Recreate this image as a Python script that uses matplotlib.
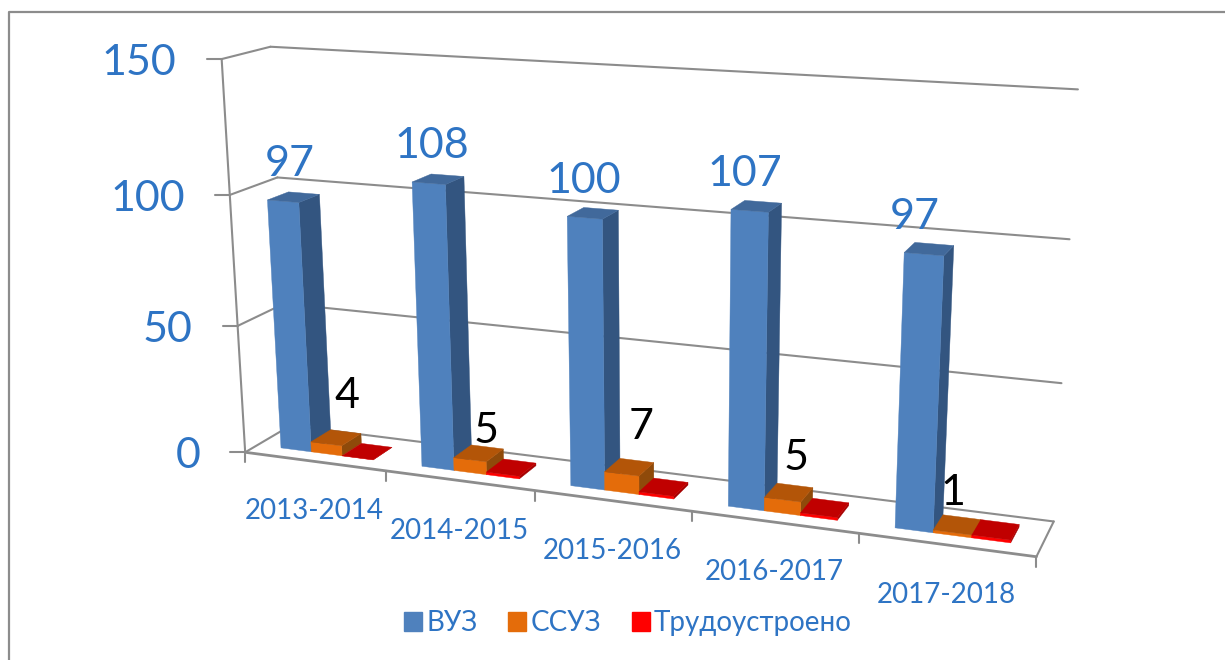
import numpy as np
import matplotlib
matplotlib.use('Agg')
import matplotlib.pyplot as plt
from matplotlib.patches import Polygon, Patch

categories = ['2013-2014', '2014-2015', '2015-2016', '2016-2017', '2017-2018']
series_names = ['ВУЗ', 'ССУЗ', 'Трудоустроено']
vuz = [97, 108, 100, 107, 97]
ssuz = [4, 5, 7, 5, 1]
work = [0, 1, 1, 1, 1]
z_ticks = [0, 50, 100, 150]

# nudges for the black labels, they do not sit evenly in the original
ssuz_dx = [21, 16, 19, 14, 0]
ssuz_dy = [-48, -29, -47, -42, -40]

plt.rcParams['font.family'] = ['Lato', 'Open Sans', 'DejaVu Sans']
text_blue = '#2E74C4'
grid_grey = '#8C8C8C'

# face colours: front, top, side
blue = ('#4F81BD', '#41699B', '#335580')
orange = ('#E46C0A', '#B35508', '#8F4A0A')
red = ('#FF0000', '#C00000', '#A50000')

# camera fitted from the corners of the chart box: (cat, depth, value) -> pixel
calib = [
    (0, 0, 0, 245, 453), (0, 0, 100, 230, 194), (0, 0, 150, 222, 59),
    (0, 1, 0, 291, 425), (0, 1, 100, 277, 178), (0, 1, 150, 270, 47),
    (5, 1, 0, 1054, 522), (5, 1, 50, 1061, 382), (5, 1, 100, 1070, 239),
    (5, 1, 150, 1078, 90), (5, 0, 0, 1036, 557),
]
A = []
b = []
for x, y, z, u, v in calib:
    A.append([x, y, z, 1, 0, 0, 0, 0, -u * x, -u * y, -u * z])
    A.append([0, 0, 0, 0, x, y, z, 1, -v * x, -v * y, -v * z])
    b += [u, v]
p = np.linalg.lstsq(np.array(A, float), np.array(b, float), rcond=None)[0]
P = np.append(p, 1).reshape(3, 4)


def proj(x, y, z):
    w = P @ np.array([x, y, z, 1.0])
    return w[0] / w[2], w[1] / w[2]


fig = plt.figure(figsize=(12.25, 6.6), dpi=100)
ax = fig.add_axes([0, 0, 1, 1])
ax.set_xlim(0, 1225)
ax.set_ylim(660, 0)
ax.axis('off')

# outer frame, only left and top are in the crop
ax.plot([9, 9, 1225], [660, 12, 12], color='#8C8C8C', lw=1.6)


def line(a, b, lw=1.5):
    ax.plot([a[0], b[0]], [a[1], b[1]], color=grid_grey, lw=lw, solid_capstyle='round', zorder=2)


# walls and floor
for z in z_ticks:
    line(proj(0, 1, z), proj(5, 1, z))
    line(proj(0, 0, z), proj(0, 1, z))
    fx, fy = proj(0, 0, z)
    line((fx - 15, fy), (fx, fy))
    ax.text(fx - 45, fy + 4, str(z), ha='right', va='center', fontsize=31, color=text_blue)
line(proj(0, 0, 0), proj(0, 0, 150))
line(proj(0, 0, 0), proj(5, 0, 0), lw=2)
line(proj(5, 0, 0), proj(5, 1, 0))
for i in range(6):
    fx, fy = proj(i, 0, 0)
    line((fx, fy), (fx, fy + 10))

bar_w = 0.22
pad = 0.17
y0 = 0.27
y1 = 0.72


def bar(x, val, cols):
    xa = x
    xb = x + bar_w
    front = [proj(xa, y0, 0), proj(xb, y0, 0), proj(xb, y0, val), proj(xa, y0, val)]
    side = [proj(xb, y0, 0), proj(xb, y1, 0), proj(xb, y1, val), proj(xb, y0, val)]
    top = [proj(xa, y0, val), proj(xb, y0, val), proj(xb, y1, val), proj(xa, y1, val)]
    for pts, c in zip((side, front, top), (cols[2], cols[0], cols[1])):
        ax.add_patch(Polygon(pts, closed=True, fc=c, ec=c, lw=0.3, zorder=3))


for i in range(len(categories)):
    bar(i + pad, vuz[i], blue)
    bar(i + pad + bar_w, ssuz[i], orange)
    bar(i + pad + 2 * bar_w, work[i], red)

    tx, ty = proj(i + pad + bar_w / 2, y0, vuz[i])
    ax.text(tx + 7 - 4 * i, ty - 37, str(vuz[i]), ha='center', va='center', fontsize=31, color=text_blue, zorder=5)
    tx, ty = proj(i + pad + 1.5 * bar_w, y0, ssuz[i])
    ax.text(tx + ssuz_dx[i], ty + ssuz_dy[i], str(ssuz[i]), ha='center', va='center', fontsize=31, color='black', zorder=5)
    tx, ty = proj(i + 0.5, 0, 0)
    ax.text(tx, ty + 50, categories[i], ha='center', va='center', fontsize=20, color=text_blue)

handles = [Patch(fc=c[0], ec=c[0]) for c in (blue, orange, red)]
leg = ax.legend(handles, series_names, loc='center', bbox_to_anchor=(628 / 1225, 1 - 623 / 660),
                ncol=3, frameon=False, fontsize=20, handlelength=0.65, handleheight=0.7,
                handletextpad=0.15, columnspacing=1.1, labelcolor=text_blue)

fig.savefig('out.png', dpi=100)
